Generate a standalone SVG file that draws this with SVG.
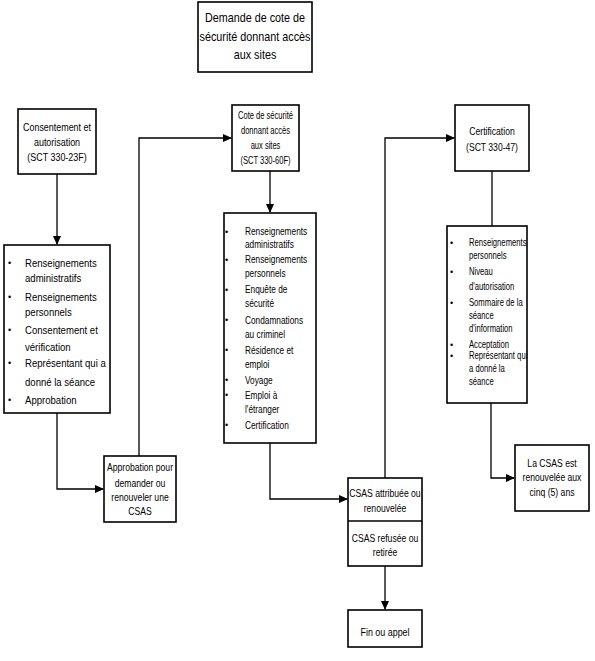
<svg xmlns="http://www.w3.org/2000/svg" width="595" height="661" viewBox="0 0 595 661">
<style>
.box{fill:#fff;stroke:#000;stroke-width:1.6}
.ln{fill:none;stroke:#000;stroke-width:1.3}
text{font-family:"Liberation Sans",Arial,sans-serif;fill:#000}
.c text{text-anchor:middle;font-size:10.5px}
.s text{font-size:10.5px}
.title text{font-size:13px;text-anchor:middle}
.b{font-size:9px}
</style>
<defs>
<marker id="ah" markerWidth="9" markerHeight="8" refX="8" refY="4" orient="auto" markerUnits="userSpaceOnUse">
<path d="M0,0 L9,4 L0,8 Z" fill="#000"/>
</marker>
</defs>
<rect width="595" height="661" fill="#fff"/>
<g id="connectors">
<path class="ln" d="M57,174 V244" marker-end="url(#ah)"/>
<path class="ln" d="M57,413 V489 H103" marker-end="url(#ah)"/>
<path class="ln" d="M139,456 V138 H231" marker-end="url(#ah)"/>
<path class="ln" d="M270,171 V212" marker-end="url(#ah)"/>
<path class="ln" d="M270,443 V499 H347" marker-end="url(#ah)"/>
<path class="ln" d="M385,478 V138 H454" marker-end="url(#ah)"/>
<path class="ln" d="M492,171 V226"/>
<path class="ln" d="M491,403 V478 H514" marker-end="url(#ah)"/>
<path class="ln" d="M385,566 V609" marker-end="url(#ah)"/>
</g>
<g id="title">
<rect class="box" x="198" y="2" width="114" height="70"/>
<g class="title" transform="translate(255,0) scale(0.83,1)">
<text x="0" y="22">Demande de cote de</text>
<text x="0" y="41">sécurité donnant accès</text>
<text x="0" y="59">aux sites</text>
</g>
</g>
<g id="consentement">
<rect class="box" x="18" y="109" width="78" height="65"/>
<g class="c" transform="translate(57,0) scale(0.85,1)">
<text x="0" y="131">Consentement et</text>
<text x="0" y="146">autorisation</text>
<text x="0" y="161">(SCT 330-23F)</text>
</g>
</g>
<g id="liste1">
<rect class="box" x="4" y="245" width="106" height="168"/>
<g class="b"><text x="8" y="266">•</text><text x="8" y="300">•</text><text x="8" y="333">•</text><text x="8" y="366">•</text><text x="8" y="403">•</text></g>
<g class="s" style="font-size:11px" transform="translate(25,0) scale(0.87,1)">
<text x="0" y="267" style="font-size:11px">Renseignements</text>
<text x="0" y="282" style="font-size:11px">administratifs</text>
<text x="0" y="301" style="font-size:11px">Renseignements</text>
<text x="0" y="316" style="font-size:11px">personnels</text>
<text x="0" y="334" style="font-size:11px">Consentement et</text>
<text x="0" y="351" style="font-size:11px">vérification</text>
<text x="0" y="367" style="font-size:11px">Représentant qui a</text>
<text x="0" y="386" style="font-size:11px">donné la séance</text>
<text x="0" y="404" style="font-size:11px">Approbation</text>
</g>
</g>
<g id="cote">
<rect class="box" x="232" y="105" width="67" height="66"/>
<g class="c" transform="translate(265.5,0) scale(0.72,1)">
<text x="0" y="119">Cote de sécurité</text>
<text x="0" y="134">donnant accès</text>
<text x="0" y="149">aux sites</text>
<text x="0" y="164">(SCT 330-60F)</text>
</g>
</g>
<g id="liste2">
<rect class="box" x="224" y="213" width="92" height="230"/>
<g class="b"><text x="225" y="235">•</text><text x="225" y="263">•</text><text x="225" y="293">•</text><text x="225" y="323">•</text><text x="225" y="353">•</text><text x="225" y="383">•</text><text x="225" y="398">•</text><text x="225" y="428">•</text></g>
<g class="s" transform="translate(245,0) scale(0.79,1)">
<text x="0" y="235">Renseignements</text>
<text x="0" y="248">administratifs</text>
<text x="0" y="263">Renseignements</text>
<text x="0" y="277">personnels</text>
<text x="0" y="293">Enquête de</text>
<text x="0" y="307">sécurité</text>
<text x="0" y="324">Condamnations</text>
<text x="0" y="338">au criminel</text>
<text x="0" y="354">Résidence et</text>
<text x="0" y="368">emploi</text>
<text x="0" y="384">Voyage</text>
<text x="0" y="399">Emploi à</text>
<text x="0" y="413">l'étranger</text>
<text x="0" y="429">Certification</text>
</g>
</g>
<g id="approbation">
<rect class="box" x="104" y="456" width="72" height="66"/>
<g class="c" transform="translate(140,0) scale(0.82,1)">
<text x="0" y="471">Approbation pour</text>
<text x="0" y="487">demander ou</text>
<text x="0" y="501">renouveler une</text>
<text x="0" y="515">CSAS</text>
</g>
</g>
<g id="certification">
<rect class="box" x="455" y="105" width="74" height="66"/>
<g class="c" transform="translate(492,0) scale(0.82,1)">
<text x="0" y="135">Certification</text>
<text x="0" y="151">(SCT 330-47)</text>
</g>
</g>
<g id="liste3">
<rect class="box" x="447" y="226" width="80" height="177"/>
<g class="b"><text x="450" y="246">•</text><text x="450" y="275">•</text><text x="450" y="306">•</text><text x="450" y="348">•</text><text x="450" y="359">•</text></g>
<g class="s" transform="translate(469,0) scale(0.73,1)">
<text x="0" y="246">Renseignements</text>
<text x="0" y="259">personnels</text>
<text x="0" y="275">Niveau</text>
<text x="0" y="290">d'autorisation</text>
<text x="0" y="306">Sommaire de la</text>
<text x="0" y="319">séance</text>
<text x="0" y="332">d'information</text>
<text x="0" y="348">Acceptation</text>
<text x="0" y="359">Représentant qui</text>
<text x="0" y="372">a donné la</text>
<text x="0" y="385">séance</text>
</g>
</g>
<g id="csas">
<rect class="box" x="348" y="478" width="74" height="88"/>
<line class="ln" x1="348" y1="521" x2="422" y2="521" style="stroke-width:1.6"/>
<g class="c" transform="translate(385,0) scale(0.82,1)">
<text x="0" y="497">CSAS attribuée ou</text>
<text x="0" y="512">renouvelée</text>
<text x="0" y="542">CSAS refusée ou</text>
<text x="0" y="556">retirée</text>
</g>
</g>
<g id="fin">
<rect class="box" x="348" y="610" width="74" height="37"/>
<g class="c" transform="translate(385,0) scale(0.85,1)">
<text x="0" y="636">Fin ou appel</text>
</g>
</g>
<g id="renouvelee">
<rect class="box" x="515" y="445" width="74" height="66"/>
<g class="c" transform="translate(552,0) scale(0.82,1)">
<text x="0" y="467">La CSAS est</text>
<text x="0" y="481">renouvelée aux</text>
<text x="0" y="496">cinq (5) ans</text>
</g>
</g>
</svg>
